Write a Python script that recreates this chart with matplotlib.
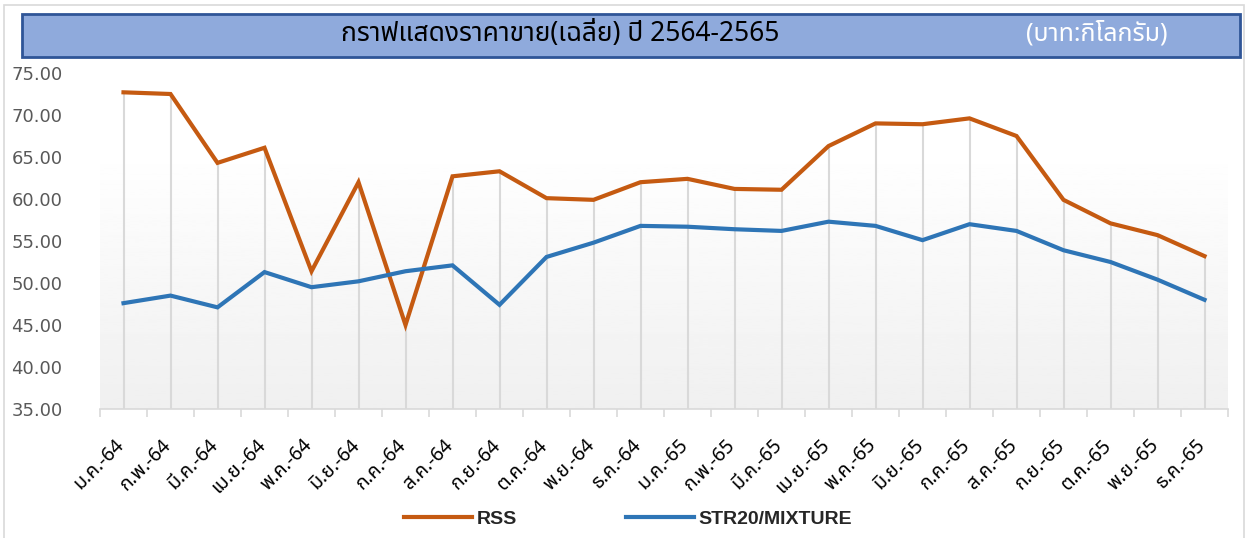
import numpy as np
import matplotlib
matplotlib.use("Agg")
import matplotlib.pyplot as plt
from matplotlib.patches import Rectangle
from matplotlib.transforms import ScaledTranslation

# month labels (Thai short month + year)
months = ["ม.ค.-64", "ก.พ.-64", "มี.ค.-64", "เม.ย.-64", "พ.ค.-64", "มิ.ย.-64",
          "ก.ค.-64", "ส.ค.-64", "ก.ย.-64", "ต.ค.-64", "พ.ย.-64", "ธ.ค.-64",
          "ม.ค.-65", "ก.พ.-65", "มี.ค.-65", "เม.ย.-65", "พ.ค.-65", "มิ.ย.-65",
          "ก.ค.-65", "ส.ค.-65", "ก.ย.-65", "ต.ค.-65", "พ.ย.-65", "ธ.ค.-65"]

rss = [72.7, 72.5, 64.3, 66.1, 51.4, 62.0, 45.0, 62.7, 63.3, 60.1, 59.9, 62.0,
       62.4, 61.2, 61.1, 66.3, 69.0, 68.9, 69.6, 67.5, 59.9, 57.1, 55.7, 53.2]
str20 = [47.6, 48.5, 47.1, 51.3, 49.5, 50.2, 51.4, 52.1, 47.4, 53.1, 54.8, 56.8,
         56.7, 56.4, 56.2, 57.3, 56.8, 55.1, 57.0, 56.2, 53.9, 52.5, 50.4, 48.0]

yticks = [35, 40, 45, 50, 55, 60, 65, 70, 75]

title = "กราฟแสดงราคาขาย(เฉลี่ย) ปี 2564-2565"
unit = "(บาท:กิโลกรัม)"

THAI = ["Noto Sans Thai", "Sarabun", "DejaVu Sans"]

W, H = 1246, 538
fig = plt.figure(figsize=(W / 100, H / 100), dpi=100)

# outer chart frame
fig.patches.append(Rectangle((4 / W, -0.01), 1240 / W, 1 - 5 / H + 0.01,
                             transform=fig.transFigure, fill=False,
                             edgecolor="#d9d9d9", linewidth=1.2))

# title banner
fig.patches.append(Rectangle((22 / W, 1 - 57 / H), 1218 / W, 43 / H,
                             transform=fig.transFigure, facecolor="#8faadc",
                             edgecolor="#2f5597", linewidth=2))
fig.text(560 / W, 1 - 34 / H, title, ha="center", va="center",
         fontsize=19, fontweight="medium", family=THAI, color="black")
fig.text(1097 / W, 1 - 34 / H, unit, ha="center", va="center",
         fontsize=18, family=THAI, color="white")

ax = fig.add_axes([100 / W, 1 - 409 / H, 1128 / W, 336 / H])
x = np.arange(len(months))

# back wall gradient
grad = np.linspace(0.94, 1.0, 100).reshape(-1, 1)
ax.imshow(grad, cmap="gray", vmin=0, vmax=1, origin="lower", aspect="auto",
          extent=(-0.5, len(months) - 0.5, 35, 66.1), zorder=0)

# drop lines
ax.vlines(x, 35, rss, color="#d9d9d9", linewidth=1.5, zorder=1)

ax.plot(x, rss, color="#c55a11", linewidth=3, label="RSS", zorder=3,
        solid_joinstyle="miter")
ax.plot(x, str20, color="#2e75b6", linewidth=3, label="STR20/MIXTURE", zorder=3,
        solid_joinstyle="miter")

ax.set_xlim(-0.5, len(months) - 0.5)
ax.set_ylim(35, 75)
ax.set_yticks(yticks)
ax.set_yticklabels(["%.2f" % v for v in yticks], fontsize=13, color="#595959")
ax.tick_params(axis="y", length=0, pad=27)

ax.set_xticks(x)
ax.set_xticklabels(months, rotation=45, ha="right", rotation_mode="anchor",
                   fontsize=14, fontweight="bold", family=THAI)
ax.tick_params(axis="x", length=0, pad=19)
shift = ScaledTranslation(-0.09, 0, fig.dpi_scale_trans)
for lab in ax.get_xticklabels():
    lab.set_transform(lab.get_transform() + shift)
ax.set_xticks(np.arange(len(months) + 1) - 0.5, minor=True)
ax.tick_params(axis="x", which="minor", length=6, color="#d9d9d9", width=1.2)

for s in ["top", "right", "left"]:
    ax.spines[s].set_visible(False)
ax.spines["bottom"].set_color("#d9d9d9")
ax.spines["bottom"].set_linewidth(1.2)
ax.set_facecolor("none")

leg = fig.legend(loc="center", bbox_to_anchor=(628 / W, 1 - 519 / H), ncol=2,
                 frameon=False, handlelength=3.5, handletextpad=0.25,
                 columnspacing=5.6,
                 prop={"family": "Liberation Sans", "weight": "bold", "size": 14})
for t in leg.get_texts():
    t.set_color("#262626")

fig.savefig("out.png", dpi=100)
